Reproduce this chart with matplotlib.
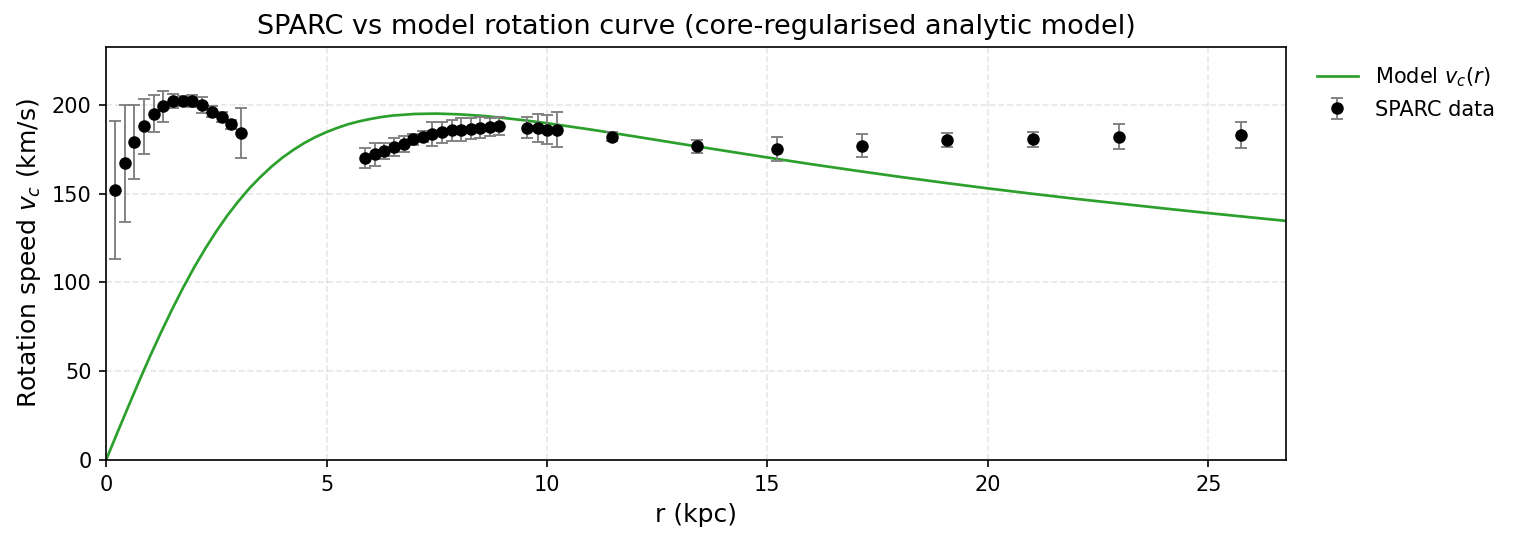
import matplotlib
matplotlib.use("Agg")
import matplotlib.pyplot as plt

# SPARC data points
r_data = [0.20, 0.42, 0.64, 0.86, 1.08, 1.30, 1.52, 1.74, 1.96, 2.18, 2.40, 2.62, 2.84, 3.05,
          5.88, 6.09, 6.31, 6.53, 6.75, 6.97, 7.18, 7.40, 7.62, 7.84, 8.05, 8.27, 8.49, 8.70, 8.92,
          9.54, 9.80, 10.01, 10.23,
          11.47, 13.40, 15.21, 17.15, 19.08, 21.03, 22.98, 25.74]
v_data = [152, 167, 179, 188, 195, 199, 202, 202, 202, 200, 196, 193, 189, 184,
          170, 172, 174, 176, 178, 180.5, 182, 183.5, 184.5, 185.5, 186, 186.5, 187, 187.5, 188,
          187, 187, 186, 186,
          182, 176.5, 175, 177, 180, 180.5, 182, 183]
v_err = [39, 33, 21, 15.5, 10.5, 8.5, 4, 3, 3.5, 4.5, 3, 3, 2.5, 14,
         5.5, 6.5, 4.5, 5, 4.5, 3, 3, 7, 6, 6, 6.5, 6, 6, 5, 5,
         6, 8, 8, 10,
         2.5, 3.7, 6.6, 6.3, 3.9, 4.1, 7, 7.2]

# model curve samples
r_model = [0, 0.25, 0.5, 0.75, 1, 1.25, 1.5, 1.75, 2, 2.25, 2.5, 2.75, 3, 3.25, 3.5, 3.75,
           4, 4.25, 4.5, 4.75, 5, 5.25, 5.5, 5.75, 6, 6.25, 6.5, 7, 7.5, 8, 8.5, 9, 9.5, 10,
           11, 12, 13, 14, 15, 16, 17, 18, 19, 20, 21, 22, 23, 24, 25, 26, 27]
v_model = [0, 15.0, 29.8, 44.4, 58.5, 72.0, 84.9, 97.1, 108.5, 119.0, 128.7, 137.6, 145.6,
           152.9, 159.3, 165.1, 170.2, 174.6, 178.5, 181.8, 184.6, 187.0, 189.1, 190.7, 192.0,
           193.1, 193.9, 194.8, 195.0, 194.6, 193.8, 192.6, 191.2, 189.6,
           186.0, 182.1, 178.1, 174.2, 170.3, 166.5, 162.9, 159.4, 156.1, 152.9, 149.9, 147.0,
           144.3, 141.6, 139.0, 136.5, 134.0]

fig = plt.figure(figsize=(1517 / 150, 542 / 150), dpi=150)
ax = fig.add_axes([0.0699, 0.1513, 0.7778, 0.762])

ax.plot(r_model, v_model, color="#2ca02c", lw=1.3, label=r"Model $v_c(r)$", zorder=2)
ax.errorbar(r_data, v_data, yerr=v_err, fmt="o", color="black", ms=5,
            ecolor="gray", elinewidth=0.9, capthick=0.9, capsize=3,
            label="SPARC data", zorder=3)

ax.set_xlim(0, 26.76)
ax.set_ylim(0, 232.5)
ax.set_xlabel("r (kpc)", fontsize=12)
ax.set_ylabel(r"Rotation speed $v_c$ (km/s)", fontsize=12)
ax.set_title("SPARC vs model rotation curve (core-regularised analytic model)", fontsize=13)
ax.grid(True, ls="--", alpha=0.3)
ax.tick_params(labelsize=10)
ax.legend(loc="upper left", bbox_to_anchor=(1.01, 1.0), frameon=False, fontsize=10)

fig.savefig("out.png", dpi=150)
